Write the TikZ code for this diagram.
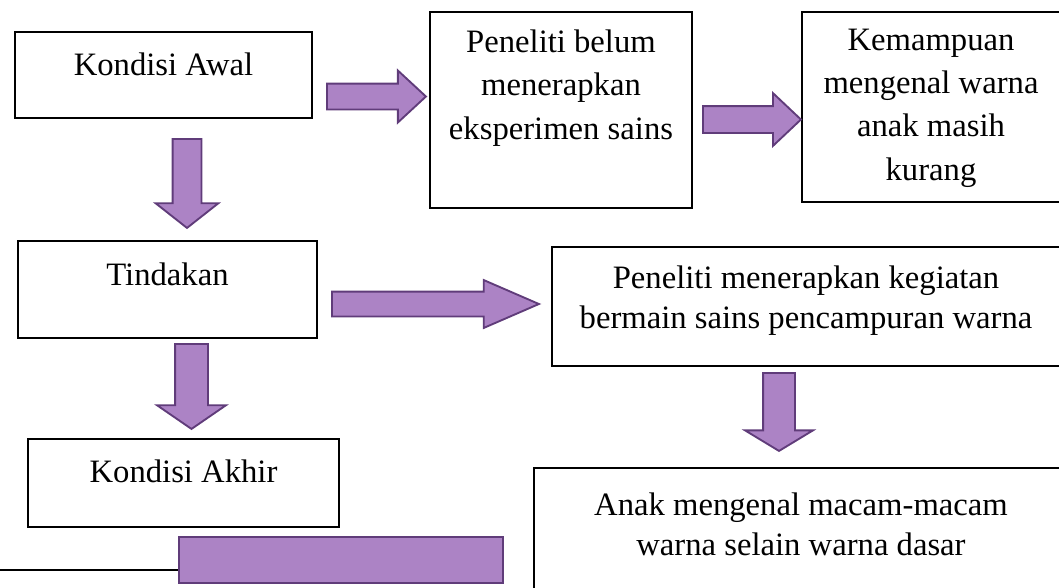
\documentclass[tikz,border=0pt]{standalone}
\usepackage{fontspec}
\setmainfont{Liberation Serif}
\usetikzlibrary{shapes.arrows}
\definecolor{ungu}{RGB}{172,131,197}
\definecolor{ungutua}{RGB}{96,60,122}
\tikzset{
  kotak/.style={draw, line width=1.5pt, inner sep=0pt},
  teks/.style={align=center, inner sep=0pt, font=\fontsize{24.5}{32.5}\selectfont},
  panah/.style={single arrow, draw=ungutua, fill=ungu, line width=1.4pt,
    single arrow head indent=0pt, anchor=tail, minimum width=0pt}
}
\begin{document}
\begin{tikzpicture}[x=0.75pt, y=-0.75pt]
    \useasboundingbox (0,0) rectangle (1059,587);
      \node[kotak, minimum width=222.75pt, minimum height=64.5pt] (KA) at (163.5, 75) {};
      \node[kotak, minimum width=196.5pt, minimum height=147pt] (PB) at (561, 110) {};
      \node[kotak, minimum width=195pt, minimum height=142.5pt] (KM) at (932, 107) {};
      \node[kotak, minimum width=224.25pt, minimum height=72.75pt] (TD) at (167.5, 289.5) {};
      \node[kotak, minimum width=382.5pt, minimum height=89.25pt] (PM) at (807, 306.5) {};
      \node[kotak, minimum width=233.25pt, minimum height=66pt] (KAk) at (183.5, 483) {};
      \node[kotak, minimum width=402pt, minimum height=99pt] (AM) at (802, 534) {};
      \node[teks] (tKA) at (163.5, 64) {Kondisi Awal};
      \node[teks] (tPB) at (561, 88) {Peneliti belum\\menerapkan\\eksperimen sains};
      \node[teks] (tKM) at (931, 108) {Kemampuan\\mengenal warna\\anak masih\\kurang};
      \node[teks] (tTD) at (167.5, 274) {Tindakan};
      \node[teks, font=\fontsize{24.5}{30}\selectfont] (tPM) at (806, 301) {Peneliti menerapkan kegiatan\\bermain sains pencampuran warna};
      \node[teks] (tKAk) at (183.5, 471) {Kondisi Akhir};
      \node[teks, font=\fontsize{24.5}{30}\selectfont] (tAM) at (801, 524) {Anak mengenal macam-macam\\warna selain warna dasar};
      \node[panah, minimum height=74.25pt, inner sep=9pt, single arrow head extend=9.75pt,
        single arrow tip angle=85.6] (A1) at (326, 96.5) {};
      \node[panah, minimum height=73.5pt, inner sep=9.375pt, single arrow head extend=9.75pt,
        single arrow tip angle=86.7] (A2) at (702, 119.5) {};
      \node[panah, minimum height=155.25pt, inner sep=8.625pt, single arrow head extend=8.625pt,
        single arrow tip angle=46.9] (A3) at (331, 304) {};
      \node[panah, shape border rotate=270, minimum height=66.75pt, inner sep=10.125pt,
        single arrow head extend=12.75pt, single arrow tip angle=103.6] (D1) at (187, 138) {};
      \node[panah, shape border rotate=270, minimum height=63.75pt, inner sep=11.625pt,
        single arrow head extend=13.5pt, single arrow tip angle=111] (D2) at (191.5, 343) {};
      \node[panah, shape border rotate=270, minimum height=58.5pt, inner sep=11.25pt,
        single arrow head extend=13.5pt, single arrow tip angle=117.6] (D3) at (779, 372) {};
      \node[draw=ungutua, fill=ungu, line width=1.4pt, minimum width=243pt, minimum height=34.5pt] (bar) at (341, 560) {};
      \coordinate (garis) at (0, 570);
      \draw[line width=1.5pt] (garis) -- (garis -| bar.west);
\end{tikzpicture}
\end{document}
